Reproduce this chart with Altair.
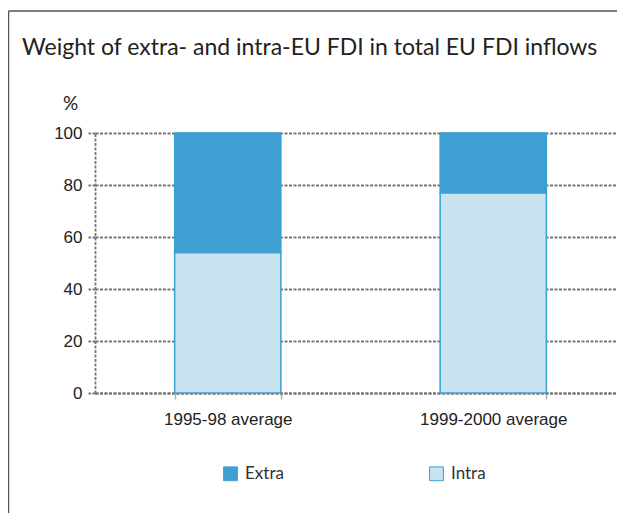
import altair as alt
import pandas as pd

categories = ["1995-98 average", "1999-2000 average"]
series = ["Extra", "Intra"]
extra_values = [46, 23]
intra_values = [54, 77]
y_ticks = [0, 20, 40, 60, 80, 100]
title_text = "Weight of extra- and intra-EU FDI in total EU FDI inflows"

rows = []
for c, e, i in zip(categories, extra_values, intra_values):
    rows.append({"period": c, "series": "Intra", "value": i, "ord": 0})
    rows.append({"period": c, "series": "Extra", "value": e, "ord": 1})
df = pd.DataFrame(rows)

grid_col = "#7d7474"
dash = [3, 1.5]
title_font = "Lato"
num_font = "Liberation Sans"

bars = alt.Chart(df).mark_bar(stroke="#3aa0d4", strokeWidth=1.5).encode(
    x=alt.X("period:N", sort=categories,
            scale=alt.Scale(range=[0, 531], paddingInner=0.6, paddingOuter=0.3),
            axis=alt.Axis(title=None, labelAngle=0, labelFont=num_font, labelFontSize=17,
                          labelColor="#222", labelPadding=12, tickBand="extent",
                          tickSize=6, tickColor="#b0b0b0", tickWidth=1.5,
                          domainColor=grid_col, domainDash=dash, domainWidth=1.8,
                          grid=False)),
    y=alt.Y("value:Q", stack="zero", scale=alt.Scale(domain=[0, 100]),
            axis=alt.Axis(values=y_ticks, title="%", titleAngle=0, titleX=-25, titleY=-24,
                          titleAlign="center", titleBaseline="alphabetic",
                          titleFont=title_font, titleFontSize=19, titleFontWeight="normal",
                          titleColor="#222",
                          labelFont=num_font, labelFontSize=17, labelColor="#222",
                          labelPadding=6, tickSize=7, tickColor=grid_col, tickDash=dash,
                          tickWidth=1.8, domainColor=grid_col, domainDash=dash,
                          domainWidth=1.8, gridColor=grid_col, gridDash=dash, gridWidth=1.8,
                          gridOpacity=1)),
    color=alt.Color("series:N",
                    scale=alt.Scale(domain=series, range=["#3ea0d2", "#c8e4f1"]),
                    legend=alt.Legend(title=None, orient="none", legendX=127, legendY=332,
                                      direction="horizontal", columnPadding=143,
                                      symbolType="square", symbolSize=190,
                                      symbolStrokeColor="#3aa0d4", symbolStrokeWidth=1,
                                      labelFont=title_font, labelFontSize=17,
                                      labelColor="#333", labelOffset=6)),
    order=alt.Order("ord:Q"),
)

frame_src = alt.Chart(pd.DataFrame({"f": [0]}))
frame_top = frame_src.mark_rule(stroke="#555", strokeWidth=1.5).encode(
    x=alt.value(-86.5), x2=alt.value(522), y=alt.value(-122)
)
frame_left = frame_src.mark_rule(stroke="#555", strokeWidth=1.5).encode(
    x=alt.value(-86.5), y=alt.value(-122), y2=alt.value(380)
)

chart = alt.layer(frame_top, frame_left, bars).properties(
    width=522, height=260,
    padding={"left": 87, "top": 125, "right": 0, "bottom": 120},
    autosize=alt.AutoSizeParams(type="none"),
    title=alt.TitleParams(title_text, anchor="start", frame="group", dx=-73, dy=54,
                          font=title_font, fontSize=23, fontWeight="normal", color="#222"),
).configure_view(stroke=None)

chart.save("out.html", embed_options={"renderer": "svg", "actions": False})
